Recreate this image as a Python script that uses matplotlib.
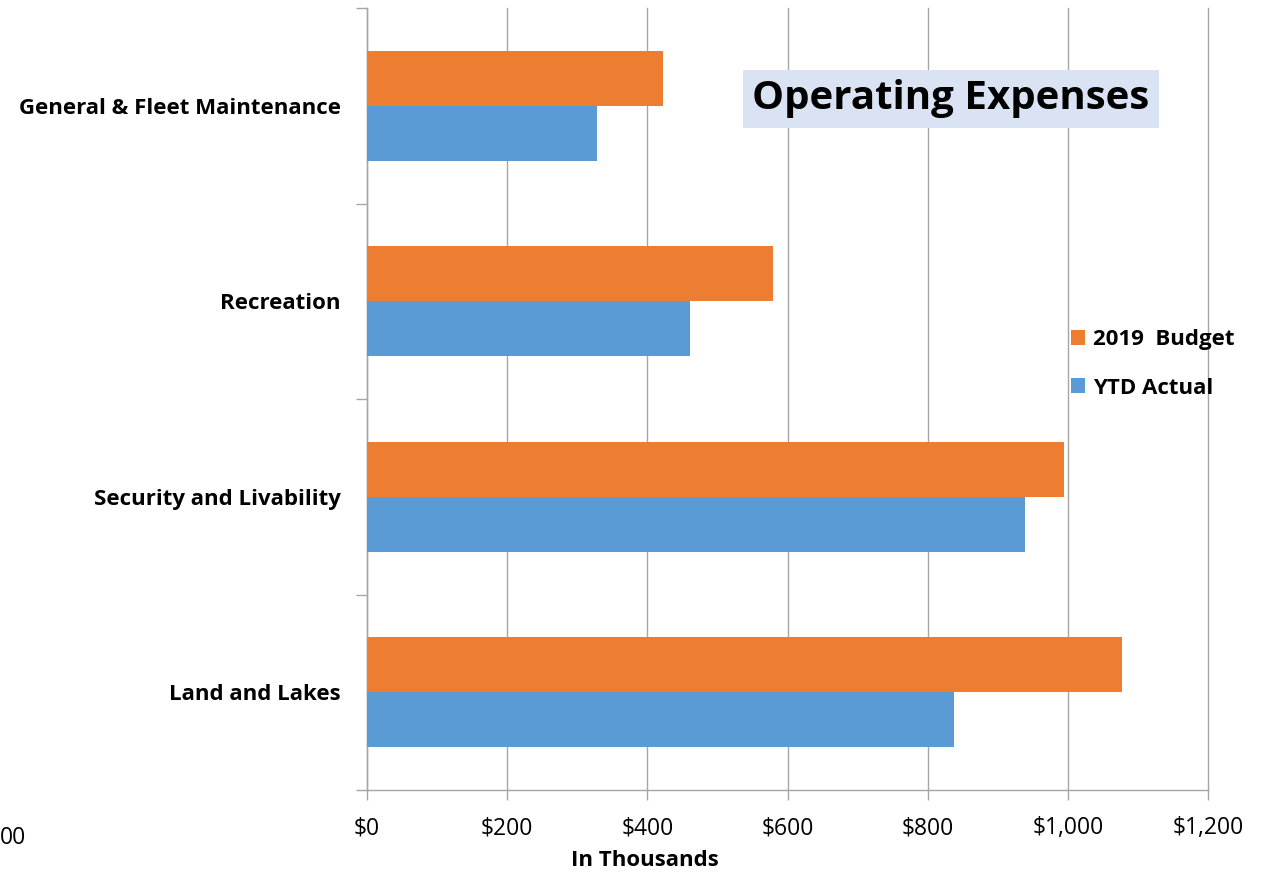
import matplotlib
matplotlib.use("Agg")
import matplotlib.pyplot as plt
from matplotlib.ticker import FuncFormatter, FixedLocator

plt.rcParams['font.family'] = ['Open Sans', 'DejaVu Sans']

categories = ["Land and Lakes", "Security and Livability", "Recreation", "General & Fleet Maintenance"]
budget = [1078, 994, 580, 423]
actual = [838, 939, 461, 328]
series_names = ["2019  Budget", "YTD Actual"]
xticks = [0, 200, 400, 600, 800, 1000, 1200]

ORANGE = "#ED7D31"
BLUE = "#5B9BD5"
GRID = "#a6a6a6"

fig = plt.figure(figsize=(12.76, 8.75), dpi=100)
ax = fig.add_axes([367/1276, 85/875, 841/1276, 782/875])

h = 0.281
ys = range(len(categories))
ax.barh([y + h/2 for y in ys], budget, height=h, color=ORANGE, label=series_names[0], zorder=3)
ax.barh([y - h/2 for y in ys], actual, height=h, color=BLUE, label=series_names[1], zorder=3)

ax.set_xlim(0, 1200)
ax.set_ylim(-0.5, len(categories) - 0.5)
ax.set_xticks(xticks)
ax.xaxis.set_major_formatter(FuncFormatter(lambda v, p: f"${v:,.0f}"))
ax.xaxis.grid(True, color=GRID, lw=1.0, zorder=0)
for gl in ax.get_xgridlines():
    gl.set_clip_on(False)
ax.tick_params(axis='x', length=7, width=1.0, color=GRID, pad=12, labelsize=16.5)

ax.set_yticks(list(ys))
ax.set_yticklabels(categories, fontsize=16, fontweight='bold')
ax.yaxis.set_minor_locator(FixedLocator([i - 0.5 for i in range(len(categories) + 1)]))
ax.tick_params(axis='y', which='major', length=0, pad=19)
ax.tick_params(axis='y', which='minor', length=8, width=1.0, color=GRID)

for s in ["top", "right"]:
    ax.spines[s].set_visible(False)
for s in ["left", "bottom"]:
    ax.spines[s].set_color(GRID)
    ax.spines[s].set_linewidth(1.0)

fig.text(645/1276, 1 - 860/875, "In Thousands", ha='center', va='center',
         fontsize=16, fontweight='bold')

leg = ax.legend(loc='upper left', bbox_to_anchor=(1062/1276, 1 - 320/875),
                bbox_transform=fig.transFigure, frameon=False,
                prop={'weight': 'bold', 'size': 16}, handlelength=0.65, handleheight=0.65,
                handletextpad=0.35, labelspacing=1.25, borderaxespad=0)

fig.text(951/1276, 1 - 99/875, "Operating Expenses", ha='center', va='center',
         fontsize=29, fontweight='bold',
         bbox=dict(boxstyle='square,pad=0.24', fc='#DAE3F3', ec='none'))

# stray axis label at the left edge
fig.text(0, 1 - 838/875, "00", ha='left', va='center', fontsize=16.5)

fig.savefig("out.png", dpi=100, facecolor="white")
